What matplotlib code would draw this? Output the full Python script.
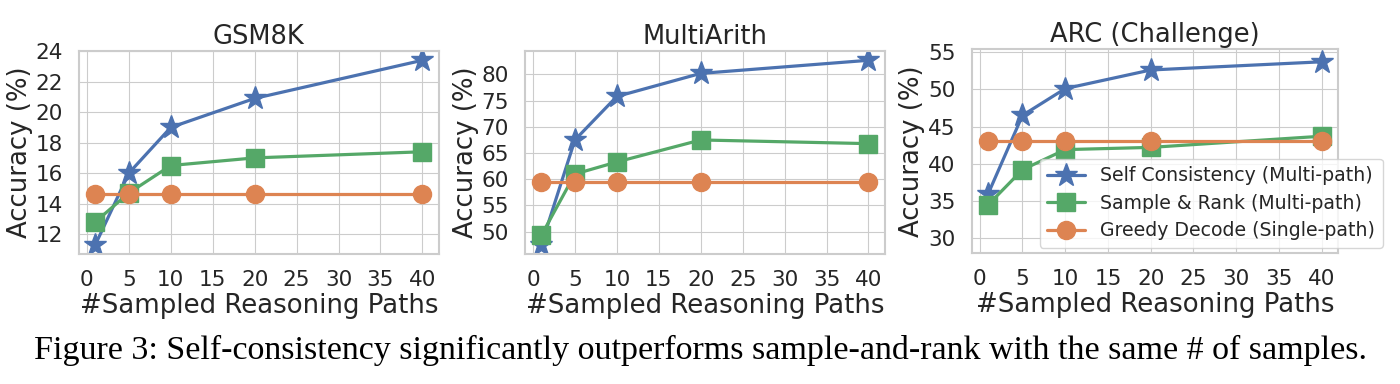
import matplotlib
matplotlib.use('Agg')
import matplotlib.pyplot as plt
import seaborn as sns

sns.set_style('whitegrid')
plt.rcParams['font.family'] = ['DejaVu Sans']

# Data
paths = [1, 5, 10, 20, 40]

gsm_sc = [11.3, 16.0, 19.0, 20.9, 23.4]
gsm_sr = [12.8, 14.7, 16.5, 17.0, 17.4]
gsm_greedy = [14.6, 14.6, 14.6, 14.6, 14.6]

ma_sc = [47.5, 67.5, 75.8, 80.2, 82.7]
ma_sr = [49.3, 61.0, 63.3, 67.5, 66.8]
ma_greedy = [59.5, 59.5, 59.5, 59.5, 59.5]

arc_sc = [36.0, 46.5, 50.1, 52.6, 53.7]
arc_sr = [34.5, 39.2, 41.9, 42.2, 43.7]
arc_greedy = [43.1, 43.1, 43.1, 43.1, 43.1]

titles = ['GSM8K', 'MultiArith', 'ARC (Challenge)']
series_labels = ['Self Consistency (Multi-path)', 'Sample & Rank (Multi-path)',
                 'Greedy Decode (Single-path)']
colors = ['#4C72B0', '#55A868', '#DD8452']
markers = ['*', 's', 'o']
msizes = [17, 13, 13]

caption = 'Figure 3: Self-consistency significantly outperforms sample-and-rank with the same # of samples.'

data = [
    (gsm_sc, gsm_sr, gsm_greedy),
    (ma_sc, ma_sr, ma_greedy),
    (arc_sc, arc_sr, arc_greedy),
]

fig = plt.figure(figsize=(14, 3.84), dpi=100)
boxes = [
    [0.0564, 0.3385, 0.257, 0.5285],
    [0.375, 0.3385, 0.257, 0.5285],
    [0.694, 0.341, 0.262, 0.531],
]

for i, (ys, title) in enumerate(zip(data, titles)):
    ax = fig.add_axes(boxes[i])
    for y, lab, c, m, ms in zip(ys, series_labels, colors, markers, msizes):
        ax.plot(paths, y, marker=m, color=c, label=lab, linewidth=2.3, markersize=ms)
    ax.set_title(title, fontsize=18.5, pad=5, color='0.15')
    ax.set_xlabel('#Sampled Reasoning Paths', fontsize=18.7, labelpad=2, color='0.15')
    ax.set_ylabel('Accuracy (%)', fontsize=18.7, labelpad=2, color='0.15')
    ax.set_xticks(range(0, 45, 5))
    ax.tick_params(axis='both', labelsize=15.5, pad=8, colors='0.15')
    for s in ax.spines.values():
        s.set_color('0.8')
        s.set_linewidth(1.5)

    if i == 0:
        ax.set_yticks(range(12, 25, 2))
    elif i == 1:
        ax.set_yticks(range(50, 85, 5))
    else:
        ax.set_ylim(28, 55.4)
        ax.set_yticks(range(30, 56, 5))
        ax.legend(loc='lower right', bbox_to_anchor=(1.146, -0.02), fontsize=13.6,
                  handlelength=2.0, borderpad=0.4, labelspacing=0.45)

fig.text(0.5, 1 - 359 / 384, caption, ha='center', va='baseline',
         fontsize=24.5, family='Liberation Serif', color='black')

plt.savefig('out.png', dpi=100)
